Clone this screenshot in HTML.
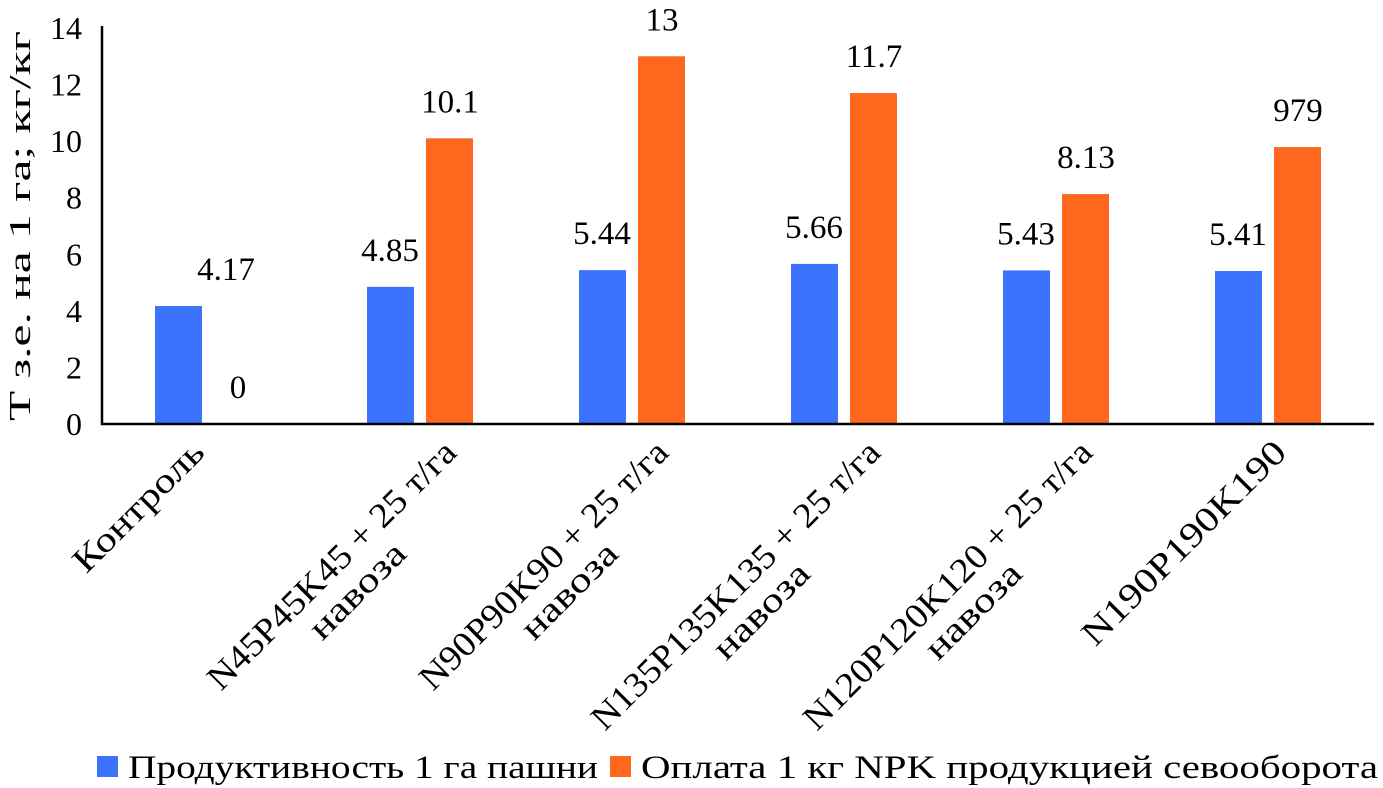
<!DOCTYPE html>
<html><head><meta charset="utf-8"><style>
html,body{margin:0;padding:0;background:#fff;}
svg{display:block;font-family:"Liberation Serif",serif;}
</style></head><body>
<svg id="chart" width="1383" height="788"></svg>
<script>
const categories=[["Контроль"],["N45P45K45 + 25 т/га","навоза"],["N90P90K90 + 25 т/га","навоза"],["N135P135K135 + 25 т/га","навоза"],["N120P120K120 + 25 т/га","навоза"],["N190P190K190"]];
const blueValues=[4.17,4.85,5.44,5.66,5.43,5.41];
const orangeValues=[0,10.1,13,11.7,8.13,9.79];
const blueLabels=["4.17","4.85","5.44","5.66","5.43","5.41"];
const orangeLabels=["0","10.1","13","11.7","8.13","979"];
const yTicks=[0,2,4,6,8,10,12,14];
const seriesNames=["Продуктивность 1 га пашни","Оплата 1 кг NPK продукцией севооборота"];

const NS="http://www.w3.org/2000/svg";
const svg=document.getElementById('chart');
const x0=102,x1=1374,yBase=424,yTop=28,yMax=14;
const band=(x1-x0)/categories.length;
function yS(v){return yBase-(yBase-yTop)*v/yMax;}
function cX(i){return x0+band*(i+0.5);}
function mk(tag,attrs,parent){const e=document.createElementNS(NS,tag);for(const k in attrs)e.setAttribute(k,attrs[k]);(parent||svg).appendChild(e);return e;}
function stretch(el,f){const L=el.getComputedTextLength();el.setAttribute('textLength',L*f);el.setAttribute('lengthAdjust','spacingAndGlyphs');return L*f;}

yTicks.forEach(t=>{
  const e=mk('text',{x:82,y:yS(t)+11,'text-anchor':'end','font-size':32,fill:'#000'});
  e.textContent=t;
  
  
});
const yt=mk('text',{x:0,y:0,transform:'translate(30,226) rotate(-90)','text-anchor':'middle','font-size':31,fill:'#000',textLength:390,lengthAdjust:'spacingAndGlyphs'});
yt.textContent="Т з.е. на 1 га; кг/кг";



const bw=47;
categories.forEach((c,i)=>{
  const cx=cX(i);
  const hb=yBase-yS(blueValues[i]);
  const b=mk('rect',{x:cx-53,y:yS(blueValues[i]),width:bw,height:hb,fill:'#3b73ff'});
  
  
  const ho=yBase-yS(orangeValues[i]);
  const o=mk('rect',{x:cx+6,y:yS(orangeValues[i]),width:bw,height:ho,fill:'#ff671f'});
  
  
  const shift=(orangeValues[i]===0)?48:0;
  const bl=mk('text',{x:cx-30+shift,y:yS(blueValues[i])-26,'text-anchor':'middle','font-size':33,fill:'#000'});
  bl.textContent=blueLabels[i];
  
  
  const ol=mk('text',{x:cx+30,y:yS(orangeValues[i])-26,'text-anchor':'middle','font-size':33,fill:'#000'});
  ol.textContent=orangeLabels[i];
  
  
  const g=mk('g',{});
  
  
  const t1=mk('text',{x:0,y:26,'text-anchor':'end','font-size':35,fill:'#000'},g);
  t1.textContent=c[0];
  const L=stretch(t1,c.length>1?1.08:1.2);
  let dx=(c.length-1)*40;
  if(c.length===1&&L>200)dx+=22;
  g.setAttribute('transform',`translate(${cx-20+dx},436) rotate(-45)`);
  if(c.length>1){
    const t2=mk('text',{x:-L/2,y:62,'text-anchor':'middle','font-size':35,fill:'#000'},g);
    t2.textContent=c[1];
    stretch(t2,1.25);
  }
});
const ax=mk('path',{d:`M${x0} ${yTop-2} V${yBase} H${x1}`,stroke:'#000','stroke-width':2.5,fill:'none'});



const lg=[{x:97,c:'#3b73ff',w:470},{x:610,c:'#ff671f',w:737}];
lg.forEach((l,i)=>{
  const r=mk('rect',{x:l.x,y:756,width:21,height:21,fill:l.c});
  
  
  const t=mk('text',{x:l.x+31,y:778,'font-size':33,fill:'#000',textLength:l.w,lengthAdjust:'spacingAndGlyphs'});
  t.textContent=seriesNames[i];
  
  
});
</script>
</body></html>
